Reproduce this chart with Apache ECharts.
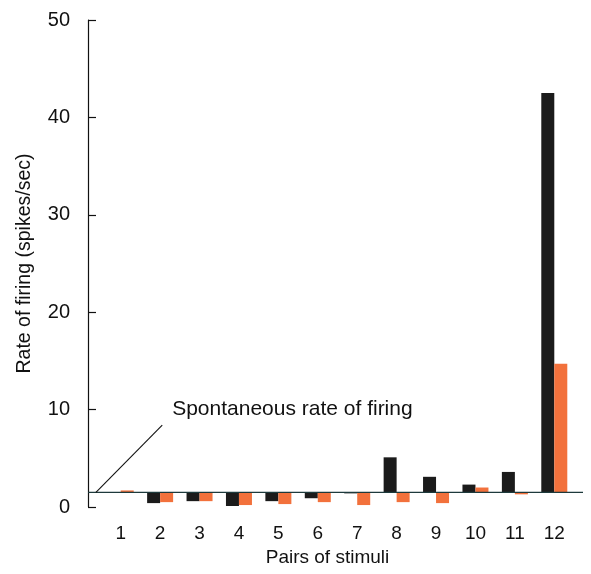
<!DOCTYPE html>
<html>
<head>
<meta charset="utf-8">
<script src="https://cdn.jsdelivr.net/npm/echarts@6/dist/echarts.min.js"></script>
<style>html,body{margin:0;padding:0;background:#fff}#c{width:591px;height:574px}</style>
</head>
<body>
<div id="c"></div>
<script>
const categories = ['1','2','3','4','5','6','7','8','9','10','11','12'];
const blackValues = [1.5, 0.4, 0.6, 0.1, 0.6, 0.9, 1.4, 5.1, 3.1, 2.3, 3.6, 42.5];
const orangeValues = [1.7, 0.5, 0.6, 0.2, 0.3, 0.5, 0.2, 0.5, 0.4, 2.0, 1.3, 14.7];
const spontaneousRate = 1.5;
const yTicks = [0, 10, 20, 30, 40, 50];
const annotationText = 'Spontaneous rate of firing';
const annotationLine = [[0.016, 1.5], [0.15, 8.4]];
const annotationLabelPos = [0.17, 10.0];

const FONT = 'Liberation Sans, Arial, Helvetica, sans-serif';
const base = v => Math.min(v, spontaneousRate);
const delta = v => Math.abs(v - spontaneousRate);

const chart = echarts.init(document.getElementById('c'));
chart.setOption({
  animation: false,
  grid: [
    {left: 101, right: 17, top: 20, bottom: 67},
    {left: 88, right: 8, top: 20, bottom: 67}
  ],
  xAxis: [
    {type: 'category', data: categories, gridIndex: 0,
     axisLine: {show: false}, axisTick: {show: false},
     axisLabel: {fontSize: 19, color: '#111', fontFamily: FONT, margin: 17},
     name: 'Pairs of stimuli', nameLocation: 'middle', nameGap: 37,
     nameTextStyle: {fontSize: 19, color: '#111', fontFamily: FONT, verticalAlign: 'top', padding: [0, 20, 0, 0]}},
    {type: 'value', gridIndex: 1, min: 0, max: 1, show: false}
  ],
  yAxis: [
    {type: 'value', gridIndex: 0, min: yTicks[0], max: yTicks[yTicks.length-1], interval: 10, offset: 13,
     axisLine: {show: true, lineStyle: {color: '#111', width: 1.2}},
     axisTick: {show: true, inside: true, length: 8, lineStyle: {color: '#111', width: 1.2}},
     splitLine: {show: false},
     axisLabel: {fontSize: 20, color: '#111', fontFamily: FONT, margin: 18},
     name: 'Rate of firing (spikes/sec)', nameLocation: 'middle', nameGap: 53, nameRotate: 90,
     nameTextStyle: {fontSize: 19.5, color: '#111', fontFamily: FONT}},
    {type: 'value', gridIndex: 1, min: yTicks[0], max: yTicks[yTicks.length-1], show: false}
  ],
  series: [
    {type: 'bar', stack: 'k', xAxisIndex: 0, yAxisIndex: 0, barWidth: 13, barGap: '0%',
     itemStyle: {color: 'transparent'}, data: blackValues.map(base), silent: true},
    {type: 'bar', stack: 'k', xAxisIndex: 0, yAxisIndex: 0, barWidth: 13, barGap: '0%',
     itemStyle: {color: '#1b1b1b'}, data: blackValues.map(delta)},
    {type: 'bar', stack: 'o', xAxisIndex: 0, yAxisIndex: 0, barWidth: 13, barGap: '0%',
     itemStyle: {color: 'transparent'}, data: orangeValues.map(base), silent: true},
    {type: 'bar', stack: 'o', xAxisIndex: 0, yAxisIndex: 0, barWidth: 13, barGap: '0%',
     itemStyle: {color: '#f2713c'}, data: orangeValues.map(delta)},
    {type: 'line', xAxisIndex: 1, yAxisIndex: 1, symbol: 'none', z: 5,
     lineStyle: {color: '#1d3a3c', width: 1.3},
     data: [[0, spontaneousRate], [1, spontaneousRate]]},
    {type: 'line', xAxisIndex: 1, yAxisIndex: 1, symbol: 'none', z: 5,
     lineStyle: {color: '#111', width: 1.1},
     data: annotationLine},
    {type: 'scatter', xAxisIndex: 1, yAxisIndex: 1, symbolSize: 0, z: 5,
     itemStyle: {opacity: 1},
     label: {show: true, position: 'right', distance: 0, formatter: annotationText,
             fontSize: 21, color: '#111', fontFamily: FONT},
     data: [annotationLabelPos]}
  ]
});
</script>
</body>
</html>
